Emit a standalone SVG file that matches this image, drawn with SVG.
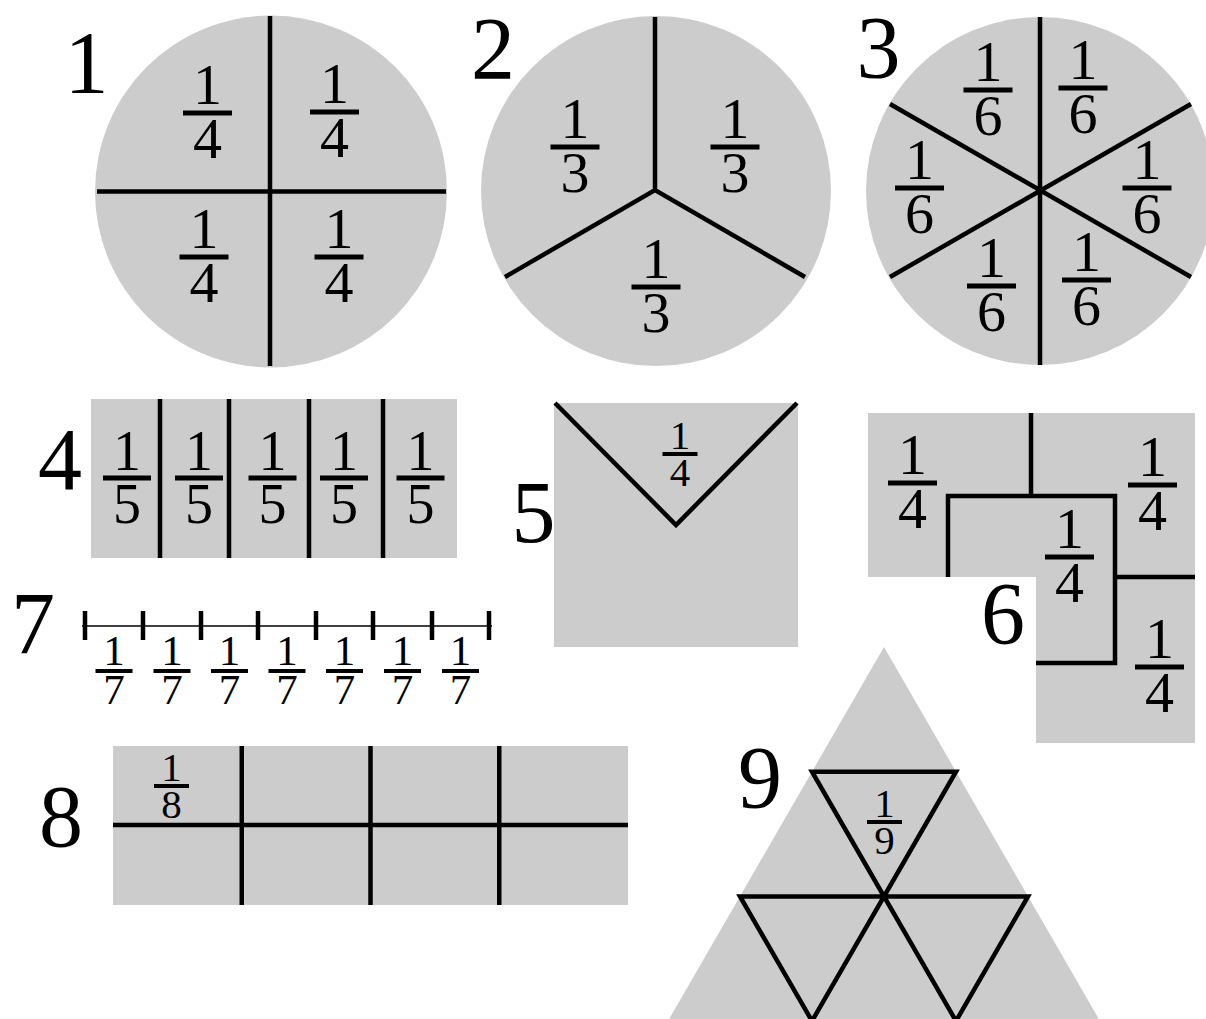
<svg xmlns="http://www.w3.org/2000/svg" width="1206" height="1019" viewBox="0 0 1206 1019">
<style>
.bg{fill:#cccccc;stroke:none}
.ln{stroke:#000;stroke-width:4.5;fill:none}
.bar{fill:#000}
text{font-family:"Liberation Serif","Times New Roman",serif;fill:#000;text-anchor:middle}
.lbl{font-size:88px}
.f58{font-size:58px}
.f56{font-size:56px}
.f43{font-size:43px}
.f41{font-size:41px}
</style>
<defs>
<g id="fr58"><text class="f58" y="-9">1</text><rect class="bar" x="-24.5" y="-2.5" width="49" height="5"/></g>
<g id="fr56"><text class="f56" y="-8">1</text><rect class="bar" x="-24" y="-2.5" width="48" height="5"/><text class="f56" y="45">5</text></g>
<g id="fr43"><text class="f43" y="-6">1</text><rect class="bar" x="-18.5" y="-2" width="37" height="4"/><text class="f43" y="33">7</text></g>
<g id="fr41"><text class="f41" y="-5">1</text><rect class="bar" x="-17.5" y="-2" width="35" height="4"/></g>
</defs>
<rect width="1206" height="1019" fill="#fff"/>

<g id="fig1">
<circle class="bg" cx="271" cy="191.5" r="176"/>
<path class="ln" d="M270,16V366M97,191.5H446"/>
<g transform="translate(207.5,113)"><use href="#fr58"/><text class="f58" y="45">4</text></g>
<g transform="translate(334.5,112)"><use href="#fr58"/><text class="f58" y="45">4</text></g>
<g transform="translate(204,257)"><use href="#fr58"/><text class="f58" y="45">4</text></g>
<g transform="translate(339,257)"><use href="#fr58"/><text class="f58" y="45">4</text></g>
<text class="lbl" x="86.5" y="92">1</text>
</g>

<g id="fig2">
<circle class="bg" cx="656" cy="191" r="175"/>
<path class="ln" d="M655,17V190M505,277L655,190L805,277"/>
<g transform="translate(575,147)"><use href="#fr58"/><text class="f58" y="45">3</text></g>
<g transform="translate(735,147)"><use href="#fr58"/><text class="f58" y="45">3</text></g>
<g transform="translate(656,287)"><use href="#fr58"/><text class="f58" y="45">3</text></g>
<text class="lbl" x="493" y="78">2</text>
</g>

<g id="fig3">
<circle class="bg" cx="1040" cy="191" r="174"/>
<path class="ln" d="M1040,17V365M890,104L1191,277M890,277L1191,104"/>
<g transform="translate(988,90)"><use href="#fr58"/><text class="f58" y="45">6</text></g>
<g transform="translate(1083,88)"><use href="#fr58"/><text class="f58" y="45">6</text></g>
<g transform="translate(919.5,188)"><use href="#fr58"/><text class="f58" y="45">6</text></g>
<g transform="translate(1147,188)"><use href="#fr58"/><text class="f58" y="45">6</text></g>
<g transform="translate(991.5,286)"><use href="#fr58"/><text class="f58" y="45">6</text></g>
<g transform="translate(1086.5,280)"><use href="#fr58"/><text class="f58" y="45">6</text></g>
<text class="lbl" x="878.5" y="77">3</text>
</g>

<g id="fig4">
<rect class="bg" x="91" y="399" width="366" height="159"/>
<path class="ln" d="M160,399V558M229,399V558M309,399V558M383,399V558"/>
<use href="#fr56" x="127" y="478"/>
<use href="#fr56" x="199" y="478"/>
<use href="#fr56" x="272.5" y="478"/>
<use href="#fr56" x="344" y="478"/>
<use href="#fr56" x="420.5" y="478"/>
<text class="lbl" x="60" y="489">4</text>
</g>

<g id="fig5">
<rect class="bg" x="554" y="403" width="244" height="244"/>
<path class="ln" d="M555,403L676,525L797,403"/>
<g transform="translate(680,454)"><use href="#fr41"/><text class="f41" y="32">4</text></g>
<text class="lbl" x="533.5" y="542">5</text>
</g>

<g id="fig6">
<polygon class="bg" points="868,413 1195,413 1195,743 1036,743 1036,577 868,577"/>
<path class="ln" d="M1031,413V496M948,577V496H1115V663H1036M1115,577H1195"/>
<g transform="translate(912.5,483)"><use href="#fr58"/><text class="f58" y="45">4</text></g>
<g transform="translate(1152.5,485)"><use href="#fr58"/><text class="f58" y="45">4</text></g>
<g transform="translate(1069.5,557)"><use href="#fr58"/><text class="f58" y="45">4</text></g>
<g transform="translate(1159.5,667)"><use href="#fr58"/><text class="f58" y="45">4</text></g>
<text class="lbl" x="1003" y="643">6</text>
</g>

<g id="fig7">
<path stroke="#000" stroke-width="1.5" d="M82,626H492"/>
<path class="ln" d="M85,611V640M143,611V640M201,611V640M258,611V640M316,611V640M373,611V640M432,611V640M489,611V640"/>
<use href="#fr43" x="114" y="671"/>
<use href="#fr43" x="172" y="671"/>
<use href="#fr43" x="229.5" y="671"/>
<use href="#fr43" x="287" y="671"/>
<use href="#fr43" x="344.5" y="671"/>
<use href="#fr43" x="402.5" y="671"/>
<use href="#fr43" x="460.5" y="671"/>
<text class="lbl" x="33" y="653">7</text>
</g>

<g id="fig8">
<rect class="bg" x="113" y="746" width="515" height="159"/>
<path class="ln" d="M241.75,746V905M370.5,746V905M499.25,746V905M113,825H628"/>
<g transform="translate(171.5,786)"><use href="#fr41"/><text class="f41" y="32">8</text></g>
<text class="lbl" x="61" y="846">8</text>
</g>

<g id="fig9">
<polygon class="bg" points="884,647 668,1021 1100,1021"/>
<path class="ln" d="M812,771.7H956L884,896.4ZM740,896.4H884L812,1021ZM884,896.4H1028L956,1021Z"/>
<g transform="translate(884.5,822)"><use href="#fr41"/><text class="f41" y="32">9</text></g>
<text class="lbl" x="760" y="807">9</text>
</g>
</svg>
